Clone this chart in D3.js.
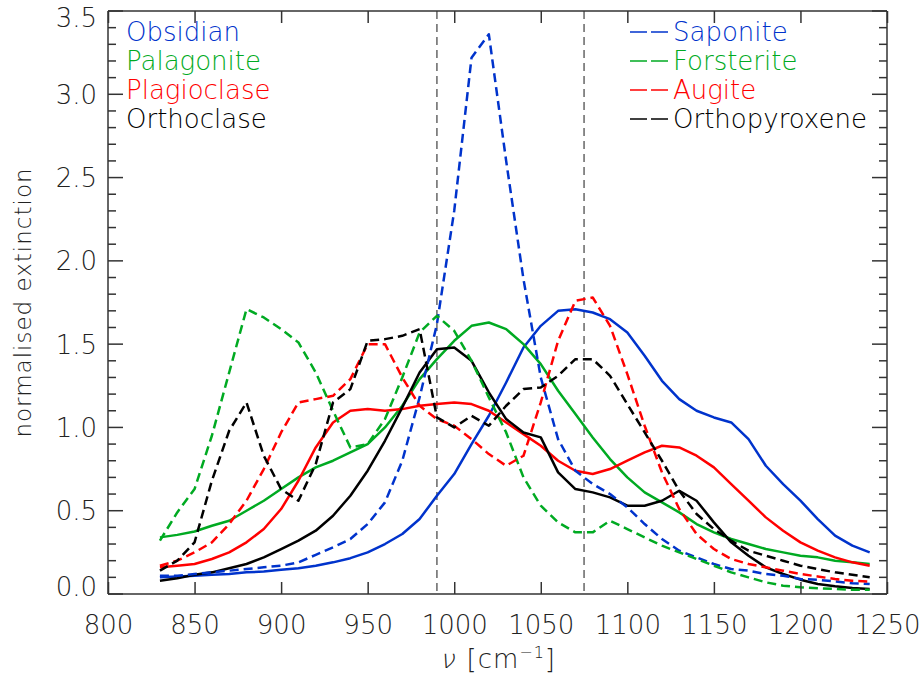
<!DOCTYPE html>
<html lang="en">
<head>
    <meta charset="utf-8">
    <script src="https://d3js.org/d3.v7.min.js"></script>
    <style>
        html, body {
            margin: 0;
            padding: 0;
            background-color: white;
        }

        svg {
            display: block;
        }

        text {
            font-family: 'DejaVu Sans', sans-serif;
            font-weight: 200;
            fill: #222;
        }

        .frame line {
            stroke: #333;
            stroke-width: 1.5;
        }

        .curve {
            fill: none;
            stroke-width: 2.5;
            stroke-linejoin: round;
        }

        .curve.dashed {
            stroke-dasharray: 9, 5;
        }

        .marker {
            stroke: #666;
            stroke-width: 1.5;
            stroke-dasharray: 8, 5;
        }
    </style>
</head>
<body>
<svg width="922" height="675"></svg>
<script>

    // wavenumbers, cm^-1
    var wavenumber = [830, 840, 850, 860, 870, 880, 890, 900, 910, 920, 930, 940, 950, 960, 970, 980, 990, 1000,
        1010, 1020, 1030, 1040, 1050, 1060, 1070, 1080, 1090, 1100, 1110, 1120, 1130, 1140, 1150, 1160, 1170, 1180,
        1190, 1200, 1210, 1220, 1230, 1240];

    var obsidian = [0.10, 0.105, 0.11, 0.115, 0.12, 0.13, 0.135, 0.145, 0.155, 0.17, 0.19, 0.215, 0.25, 0.30, 0.36,
        0.45, 0.59, 0.72, 0.90, 1.07, 1.27, 1.48, 1.61, 1.70, 1.71, 1.69, 1.65, 1.57, 1.43, 1.28, 1.17, 1.10, 1.06,
        1.03, 0.93, 0.77, 0.66, 0.56, 0.45, 0.35, 0.29, 0.25];

    var palagonite = [0.34, 0.355, 0.375, 0.41, 0.44, 0.50, 0.56, 0.63, 0.70, 0.76, 0.80, 0.85, 0.90, 1.00, 1.13,
        1.29, 1.41, 1.52, 1.61, 1.63, 1.59, 1.50, 1.38, 1.22, 1.08, 0.94, 0.81, 0.70, 0.61, 0.55, 0.49, 0.42, 0.37,
        0.33, 0.30, 0.27, 0.25, 0.23, 0.22, 0.20, 0.19, 0.18];

    var plagioclase = [0.16, 0.17, 0.18, 0.21, 0.25, 0.31, 0.39, 0.51, 0.68, 0.88, 1.03, 1.10, 1.11, 1.10, 1.11,
        1.13, 1.14, 1.15, 1.14, 1.10, 1.03, 0.96, 0.89, 0.80, 0.74, 0.72, 0.75, 0.80, 0.85, 0.89, 0.88, 0.83, 0.76,
        0.66, 0.56, 0.46, 0.38, 0.31, 0.26, 0.22, 0.19, 0.17];

    var orthoclase = [0.08, 0.095, 0.115, 0.13, 0.155, 0.18, 0.22, 0.27, 0.32, 0.38, 0.47, 0.59, 0.74, 0.92, 1.12,
        1.33, 1.47, 1.48, 1.40, 1.21, 1.05, 0.97, 0.94, 0.73, 0.63, 0.61, 0.58, 0.53, 0.53, 0.56, 0.62, 0.56, 0.43,
        0.31, 0.23, 0.16, 0.12, 0.086, 0.06, 0.046, 0.036, 0.03];

    var saponite = [0.11, 0.11, 0.12, 0.13, 0.14, 0.15, 0.16, 0.17, 0.19, 0.235, 0.28, 0.33, 0.42, 0.55, 0.80,
        1.18, 1.62, 2.30, 3.22, 3.36, 2.60, 1.89, 1.30, 0.93, 0.74, 0.66, 0.60, 0.52, 0.42, 0.33, 0.26, 0.22, 0.18,
        0.15, 0.14, 0.12, 0.11, 0.09, 0.085, 0.075, 0.065, 0.06];

    var forsterite = [0.32, 0.49, 0.63, 0.95, 1.33, 1.71, 1.66, 1.59, 1.51, 1.33, 1.10, 0.88, 0.90, 1.05, 1.30,
        1.57, 1.67, 1.58, 1.40, 1.18, 0.97, 0.70, 0.53, 0.43, 0.37, 0.37, 0.44, 0.39, 0.34, 0.29, 0.25, 0.21, 0.17,
        0.13, 0.10, 0.07, 0.05, 0.04, 0.035, 0.03, 0.025, 0.025];

    var augite = [0.17, 0.20, 0.25, 0.31, 0.42, 0.56, 0.75, 0.97, 1.15, 1.17, 1.19, 1.29, 1.50, 1.50, 1.30, 1.13,
        1.05, 1.01, 0.93, 0.84, 0.77, 0.83, 1.15, 1.52, 1.76, 1.78, 1.61, 1.32, 1.01, 0.73, 0.51, 0.36, 0.27, 0.21,
        0.18, 0.16, 0.14, 0.12, 0.105, 0.09, 0.08, 0.075];

    var orthopyroxene = [0.14, 0.20, 0.31, 0.68, 0.98, 1.15, 0.83, 0.63, 0.56, 0.78, 1.15, 1.23, 1.52, 1.53, 1.55,
        1.59, 1.06, 1.00, 1.07, 1.01, 1.13, 1.23, 1.24, 1.31, 1.41, 1.41, 1.31, 1.14, 0.97, 0.80, 0.62, 0.48, 0.39,
        0.32, 0.26, 0.23, 0.20, 0.17, 0.15, 0.13, 0.115, 0.10];

    var solidNames = ['Obsidian', 'Palagonite', 'Plagioclase', 'Orthoclase'];
    var dashedNames = ['Saponite', 'Forsterite', 'Augite', 'Orthopyroxene'];
    var markerLines = [990, 1075];
    var xTicks = [800, 850, 900, 950, 1000, 1050, 1100, 1150, 1200, 1250];

    var colours = ['#0033cc', '#00aa22', '#ff0000', '#000000'];

    var series = [
        {name: 'Obsidian', values: obsidian, colour: colours[0], dashed: false},
        {name: 'Palagonite', values: palagonite, colour: colours[1], dashed: false},
        {name: 'Plagioclase', values: plagioclase, colour: colours[2], dashed: false},
        {name: 'Orthoclase', values: orthoclase, colour: colours[3], dashed: false},
        {name: 'Saponite', values: saponite, colour: colours[0], dashed: true},
        {name: 'Forsterite', values: forsterite, colour: colours[1], dashed: true},
        {name: 'Augite', values: augite, colour: colours[2], dashed: true},
        {name: 'Orthopyroxene', values: orthopyroxene, colour: colours[3], dashed: true}
    ];

    // plot frame, in pixels (window.top is read-only, hence the prefix)
    var plotLeft = 108, plotTop = 11, plotRight = 887, plotBottom = 594;

    var x = d3.scaleLinear().domain([800, 1250]).range([plotLeft, plotRight]);
    var y = d3.scaleLinear().domain([0, 3.5]).range([plotBottom, plotTop]);

    var svg = d3.select('svg');

    // dashed vertical markers
    svg.append('g')
        .selectAll('line')
        .data(markerLines)
        .enter()
        .append('line')
        .attr('class', 'marker')
        .attr('x1', function (d) { return x(d); })
        .attr('x2', function (d) { return x(d); })
        .attr('y1', plotTop)
        .attr('y2', plotBottom);

    // curves
    var line = d3.line()
        .x(function (d) { return x(d[0]); })
        .y(function (d) { return y(d[1]); });

    svg.append('g')
        .selectAll('path')
        .data(series)
        .enter()
        .append('path')
        .attr('class', function (d) { return d.dashed ? 'curve dashed' : 'curve'; })
        .attr('stroke', function (d) { return d.colour; })
        .attr('d', function (d) {
            return line(wavenumber.map(function (w, i) { return [w, d.values[i]]; }));
        });

    // axes: ticks on all four sides, labels on left and bottom
    var bottomAxis = d3.axisBottom(x).tickValues(xTicks).tickSize(-12).tickFormat(d3.format('d')).tickPadding(0);
    var topAxis = d3.axisTop(x).tickValues(xTicks).tickSize(-12).tickFormat('');
    var yMinor = d3.range(0, 36).map(function (i) { return i / 10; });
    var yMajor = d3.range(0, 8).map(function (i) { return i / 2; });

    var gx = svg.append('g')
        .attr('transform', 'translate(0,' + plotBottom + ')')
        .call(bottomAxis);
    svg.append('g')
        .attr('transform', 'translate(0,' + plotTop + ')')
        .call(topAxis);

    function yTicks (sel, sign) {
        sel.selectAll('line.minor')
            .data(yMinor)
            .enter()
            .append('line')
            .attr('y1', function (d) { return y(d); })
            .attr('y2', function (d) { return y(d); })
            .attr('x1', 0)
            .attr('x2', function (d) {
                return Math.abs(d * 2 - Math.round(d * 2)) < 1e-6 ? sign * 15 : sign * 8;
            })
            .attr('stroke', '#333')
            .attr('stroke-width', 1.5);
    }

    var gl = svg.append('g').attr('transform', 'translate(' + plotLeft + ',0)');
    gl.call(yTicks, 1);
    var gr = svg.append('g').attr('transform', 'translate(' + plotRight + ',0)');
    gr.call(yTicks, -1);

    gl.selectAll('text')
        .data(yMajor)
        .enter()
        .append('text')
        .attr('x', -11)
        .attr('y', function (d) { return Math.min(plotBottom - 7, Math.max(plotTop + 7, y(d))); })
        .attr('dy', '0.36em')
        .attr('text-anchor', 'end')
        .style('font-size', '26px')
        .text(d3.format('.1f'));

    svg.selectAll('.domain').remove();
    svg.selectAll('.tick line').attr('stroke', '#333').attr('stroke-width', 1.5);
    gx.selectAll('.tick text')
        .attr('y', 40)
        .attr('dy', 0)
        .style('font-size', '26px')
        .style('fill', '#222');

    // frame
    var frame = svg.append('g').attr('class', 'frame');
    frame.append('line').attr('x1', plotLeft).attr('x2', plotRight).attr('y1', plotBottom).attr('y2', plotBottom);
    frame.append('line').attr('x1', plotLeft).attr('x2', plotRight).attr('y1', plotTop).attr('y2', plotTop);
    frame.append('line').attr('x1', plotLeft).attr('x2', plotLeft).attr('y1', plotTop).attr('y2', plotBottom);
    frame.append('line').attr('x1', plotRight).attr('x2', plotRight).attr('y1', plotTop).attr('y2', plotBottom);

    // axis titles
    svg.append('text')
        .attr('transform', 'translate(31,' + ((plotTop + plotBottom) / 2) + ') rotate(-90)')
        .attr('text-anchor', 'middle')
        .style('font-size', '23px')
        .style('letter-spacing', '1px')
        .text('normalised extinction');

    // nu drawn upright and sheared, so the light weight stays light
    var xMid = (plotLeft + plotRight) / 2;
    svg.append('text')
        .attr('transform', 'translate(' + (xMid - 58) + ',668) skewX(-14)')
        .style('font-size', '26px')
        .text('ν');
    var xt = svg.append('text')
        .attr('x', xMid - 31)
        .attr('y', 668)
        .style('font-size', '26px')
        .style('letter-spacing', '1px');
    xt.append('tspan').text('[cm');
    xt.append('tspan').attr('dy', -10).style('font-size', '16px').text('−1');
    xt.append('tspan').attr('dy', 10).text(']');

    // legends
    svg.append('g')
        .selectAll('text')
        .data(solidNames)
        .enter()
        .append('text')
        .attr('x', 126)
        .attr('y', function (d, i) { return 41 + i * 29; })
        .style('font-size', '26px')
        .style('fill', function (d, i) { return colours[i]; })
        .text(function (d) { return d; });

    var dl = svg.append('g')
        .selectAll('g')
        .data(dashedNames)
        .enter()
        .append('g')
        .attr('transform', function (d, i) { return 'translate(630,' + (41 + i * 29) + ')'; });
    dl.append('line')
        .attr('x1', 0).attr('x2', 17).attr('y1', -9).attr('y2', -9)
        .attr('stroke', function (d, i) { return colours[i]; })
        .attr('stroke-width', 1.5);
    dl.append('line')
        .attr('x1', 21).attr('x2', 38).attr('y1', -9).attr('y2', -9)
        .attr('stroke', function (d, i) { return colours[i]; })
        .attr('stroke-width', 1.5);
    dl.append('text')
        .attr('x', 43)
        .style('font-size', '26px')
        .style('fill', function (d, i) { return colours[i]; })
        .text(function (d) { return d; });

</script>
</body>
</html>
